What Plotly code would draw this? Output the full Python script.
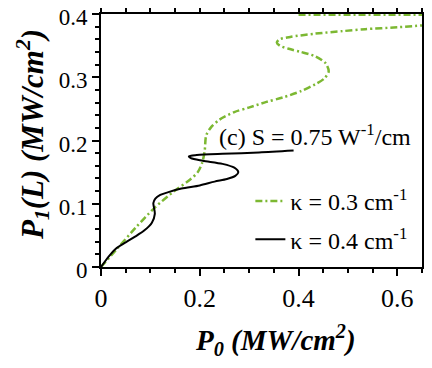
import plotly.graph_objects as go

# kappa = 0.3 cm^-1 branch (green dash-dot), None splits the top piece
p0_k03 = [0, 0.034, 0.07, 0.109, 0.15, 0.18, 0.196, 0.205, 0.21, 0.213, 0.222,
          0.24, 0.27, 0.299, 0.335, 0.368, 0.405, 0.434, 0.452, 0.461, 0.455,
          0.434, 0.405, 0.38, 0.362, 0.356, 0.362, 0.385, 0.434, 0.49, 0.535,
          0.6, 0.65, None, 0.4, 0.65]
p1_k03 = [0, 0.03, 0.062, 0.094, 0.121, 0.138, 0.15, 0.165, 0.184, 0.208, 0.22,
          0.233, 0.245, 0.252, 0.261, 0.268, 0.278, 0.289, 0.298, 0.309, 0.322,
          0.333, 0.34, 0.345, 0.35, 0.355, 0.36, 0.364, 0.369, 0.373, 0.376,
          0.379, 0.382, None, 0.399, 0.399]

# kappa = 0.4 cm^-1 branch (black solid)
p0_k04 = [0, 0.015, 0.03, 0.05, 0.069, 0.088, 0.103, 0.109, 0.107, 0.106, 0.11,
          0.12, 0.135, 0.163, 0.2, 0.23, 0.255, 0.272, 0.278, 0.27, 0.246,
          0.206, 0.182, 0.178, 0.194, 0.246, 0.32, 0.39]
p1_k04 = [0, 0.016, 0.029, 0.039, 0.048, 0.058, 0.07, 0.084, 0.095, 0.101, 0.108,
          0.114, 0.118, 0.124, 0.129, 0.135, 0.139, 0.144, 0.15, 0.157, 0.163,
          0.168, 0.172, 0.175, 0.177, 0.179, 0.181, 0.184]

x_ticks = [0, 0.2, 0.4, 0.6]
y_ticks = [0, 0.1, 0.2, 0.3, 0.4]

SERIF = "Liberation Serif"
GREEN = "#7cb832"

fig = go.Figure()
fig.add_trace(go.Scatter(
    x=p0_k03, y=p1_k03, mode="lines", name="\u03ba = 0.3 cm<sup>-1</sup>",
    legendgroup="a", connectgaps=False,
    line=dict(color=GREEN, width=2.5, dash="7px,3px,2px,3px", shape="spline", smoothing=0.8),
))
fig.add_trace(go.Scatter(
    x=p0_k04, y=p1_k04, mode="lines", name="\u03ba = 0.4 cm<sup>-1</sup>",
    legendgroup="b",
    line=dict(color="black", width=2, shape="spline", smoothing=0.8),
))

# page body adds an 8px offset, margins are set so the plot lands where the reference has it
axis_common = dict(
    showgrid=False, zeroline=False, showline=True, linecolor="black", linewidth=2,
    mirror="allticks", ticks="outside", ticklen=7, tickwidth=1.5, tickcolor="black",
    layer="below traces", automargin=False, ticklabeloverflow="allow",
)
fig.update_xaxes(
    range=[0, 0.65], tickvals=x_ticks, ticktext=[str(v) for v in x_ticks],
    tickfont=dict(family=SERIF, size=26, color="black"),
    minor=dict(dtick=0.05, ticks="outside", ticklen=4, tickwidth=1.5, tickcolor="black"),
    **axis_common,
)
fig.update_yaxes(
    range=[0, 0.4], tickvals=y_ticks, ticktext=[str(v) for v in y_ticks],
    tickfont=dict(family=SERIF, size=23, color="black"), ticklabelshift=3,
    minor=dict(dtick=0.02, ticks="outside", ticklen=4, tickwidth=1.5, tickcolor="black"),
    **axis_common,
)

fig.add_annotation(
    text="(c) S = 0.75 W<sup>-1</sup>/cm", xref="paper", yref="paper",
    x=0.36, y=0.52, xanchor="left", yanchor="middle", showarrow=False,
    font=dict(family=SERIF, size=24, color="black"),
)
fig.add_annotation(
    text="<b><i>P<sub>0</sub> (MW/cm<sup>2</sup>)</i></b>", xref="paper", yref="paper",
    x=0.545, y=-0.29, xanchor="center", yanchor="middle", showarrow=False,
    font=dict(family=SERIF, size=29, color="black"),
)
fig.add_annotation(
    text="<b><i>P<sub>1</sub>(L) (MW/cm<sup>2</sup>)</i></b>", xref="paper", yref="paper",
    x=-0.212, y=0.525, xanchor="center", yanchor="middle", showarrow=False, textangle=-90,
    font=dict(family=SERIF, size=31, color="black"),
)

fig.update_layout(
    width=432, height=368,
    margin=dict(l=93, r=18, t=6, b=109),
    plot_bgcolor="white", paper_bgcolor="white",
    showlegend=True,
    legend=dict(
        x=0.97, y=0.02, xanchor="right", yanchor="bottom",
        bgcolor="rgba(0,0,0,0)", font=dict(family=SERIF, size=24, color="black"),
        traceorder="grouped", tracegroupgap=4, itemwidth=30,
    ),
)

fig.write_html("out.html")
